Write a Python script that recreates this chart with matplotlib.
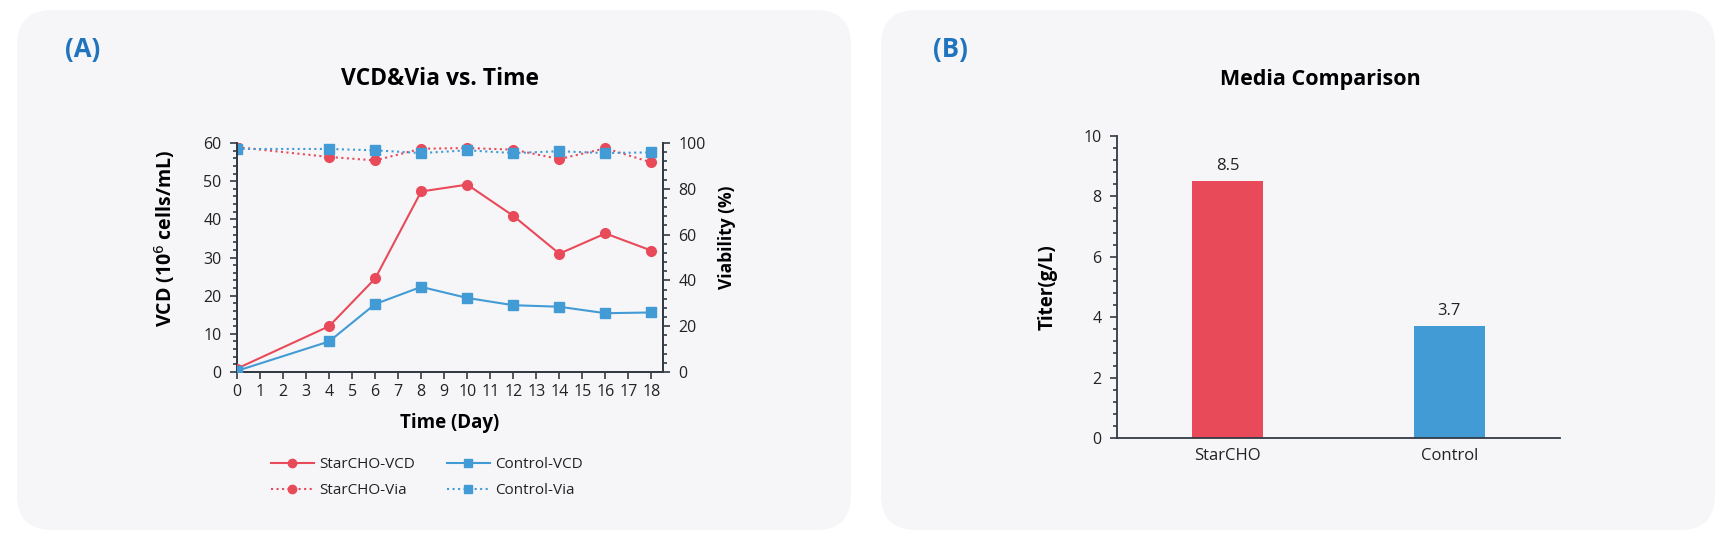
import matplotlib.pyplot as plt
from matplotlib.patches import FancyBboxPatch
from matplotlib.ticker import MultipleLocator
from matplotlib.lines import Line2D

plt.rcParams['font.family'] = ['Open Sans', 'DejaVu Sans']

# data
days = [0, 4, 6, 8, 10, 12, 14, 16, 18]
starcho_vcd = [0.9, 12.0, 24.5, 47.3, 49.1, 40.9, 31.0, 36.3, 31.8]
control_vcd = [0.3, 8.0, 17.8, 22.3, 19.4, 17.5, 17.1, 15.4, 15.6]
starcho_via = [98.2, 93.9, 92.4, 97.5, 97.8, 97.1, 93.0, 97.7, 91.5]
control_via = [97.4, 97.4, 96.8, 95.6, 96.8, 95.6, 96.4, 95.6, 95.9]

media = ['StarCHO', 'Control']
titer = [8.5, 3.7]

RED = '#e94a5a'
BLUE = '#429bd4'
PANEL = '#f6f6f9'
LABEL_BLUE = '#1f74bd'
AXC = '#333a45'
TXT = '#222222'

W, H = 1729, 543
fig = plt.figure(figsize=(W / 100, H / 100), dpi=100)
fig.patch.set_facecolor('white')

# background panels (pixel coordinates)
bg = fig.add_axes([0, 0, 1, 1], zorder=-10)
bg.set_xlim(0, W)
bg.set_ylim(H, 0)
bg.axis('off')
for x0, x1 in [(17, 851), (881, 1715)]:
    bg.add_patch(FancyBboxPatch((x0, 10), x1 - x0, 520,
                                boxstyle='round,pad=0,rounding_size=35',
                                facecolor=PANEL, edgecolor='none'))


def px(x0, y0, x1, y1):
    return [x0 / W, 1 - y1 / H, (x1 - x0) / W, (y1 - y0) / H]


def style_axis(ax):
    ax.set_facecolor('none')
    for s in ax.spines.values():
        s.set_color(AXC)
        s.set_linewidth(1.3)
    ax.tick_params(which='both', direction='out', colors=AXC, labelcolor=TXT,
                   labelsize=11.5, width=1.2, pad=6)
    ax.tick_params(which='major', length=5)
    ax.tick_params(which='minor', length=3)


# ---- (A) VCD & viability ----
ax = fig.add_axes(px(237, 143, 663, 372))
ax2 = ax.twinx()
style_axis(ax)
style_axis(ax2)
ax.spines['top'].set_visible(False)
ax2.spines['top'].set_visible(False)

ax.plot(days, starcho_vcd, color=RED, lw=1.5, marker='o', ms=7, zorder=3)
ax.plot(days, control_vcd, color=BLUE, lw=1.5, marker='s', ms=6.5, zorder=3)
ax2.plot(days, starcho_via, color=RED, lw=1.5, ls=':', marker='o', ms=7)
ax2.plot(days, control_via, color=BLUE, lw=1.5, ls=':', marker='s', ms=6.5)

ax.set_xlim(0, 18.5)
ax.set_ylim(0, 60)
ax2.set_ylim(0, 100)
ax.set_xticks(range(0, 19))
ax.tick_params(axis='x', pad=4)
ax.yaxis.set_major_locator(MultipleLocator(10))
ax.yaxis.set_minor_locator(MultipleLocator(2))
ax2.yaxis.set_major_locator(MultipleLocator(20))
ax2.yaxis.set_minor_locator(MultipleLocator(4))
ax.set_zorder(ax2.get_zorder() + 1)
ax.patch.set_visible(False)

ax.set_xlabel('Time (Day)', fontsize=13.5, fontweight='bold', color='black')
ax.xaxis.set_label_coords(0.5, -0.18)
ax.set_ylabel('VCD (10$^{6}$ cells/mL)', fontsize=14, fontweight='bold', color='black')
ax.yaxis.set_label_coords(-0.14, 0.585)
ax2.set_ylabel('Viability (%)', fontsize=12.5, fontweight='bold', color='black')
ax2.yaxis.set_label_coords(1.13, 0.59)

handles = [
    Line2D([], [], color=RED, lw=1.5, marker='o', ms=6),
    Line2D([], [], color=RED, lw=1.5, ls=':', marker='o', ms=6),
    Line2D([], [], color=BLUE, lw=1.5, marker='s', ms=6),
    Line2D([], [], color=BLUE, lw=1.5, ls=':', marker='s', ms=6),
]
labels = ['StarCHO-VCD', 'StarCHO-Via', 'Control-VCD', 'Control-Via']
fig.legend(handles, labels, ncol=2, loc='center left',
           bbox_to_anchor=(271 / W, 1 - 477.5 / H), frameon=False,
           fontsize=11, handlelength=2.8, handletextpad=0.35,
           columnspacing=2.1, labelspacing=0.7, borderpad=0, borderaxespad=0,
           labelcolor=TXT)

fig.text(65 / W, 1 - 50 / H, '(A)', fontsize=18.5, fontweight='bold',
         color=LABEL_BLUE, ha='left', va='center')
fig.text(440 / W, 1 - 79 / H, 'VCD&Via vs. Time', fontsize=16.5,
         fontweight='bold', color='black', ha='center', va='center')

# ---- (B) titer bars ----
bx = fig.add_axes(px(1117, 136, 1560, 438))
style_axis(bx)
bx.spines['top'].set_visible(False)
bx.spines['right'].set_visible(False)
bars = bx.bar(range(len(media)), titer, width=0.32, color=[RED, BLUE])
bx.set_xlim(-0.5, 1.5)
bx.set_ylim(0, 10)
bx.set_xticks(range(len(media)))
bx.set_xticklabels(media, fontsize=12)
bx.tick_params(axis='x', length=0, pad=7)
bx.yaxis.set_major_locator(MultipleLocator(2))
bx.yaxis.set_minor_locator(MultipleLocator(0.4))
for rect, v in zip(bars, titer):
    bx.annotate(f'{v}', (rect.get_x() + rect.get_width() / 2, v),
                xytext=(0, 5), textcoords='offset points', ha='center',
                va='bottom', fontsize=12, color=TXT)
bx.set_ylabel('Titer(g/L)', fontsize=13.5, fontweight='bold', color='black')
bx.yaxis.set_label_coords(-0.135, 0.5)

fig.text(933 / W, 1 - 50 / H, '(B)', fontsize=18.5, fontweight='bold',
         color=LABEL_BLUE, ha='left', va='center')
fig.text(1320 / W, 1 - 79 / H, 'Media Comparison', fontsize=15.5,
         fontweight='bold', color='black', ha='center', va='center')

fig.savefig('out.png', dpi=100, facecolor='white')
